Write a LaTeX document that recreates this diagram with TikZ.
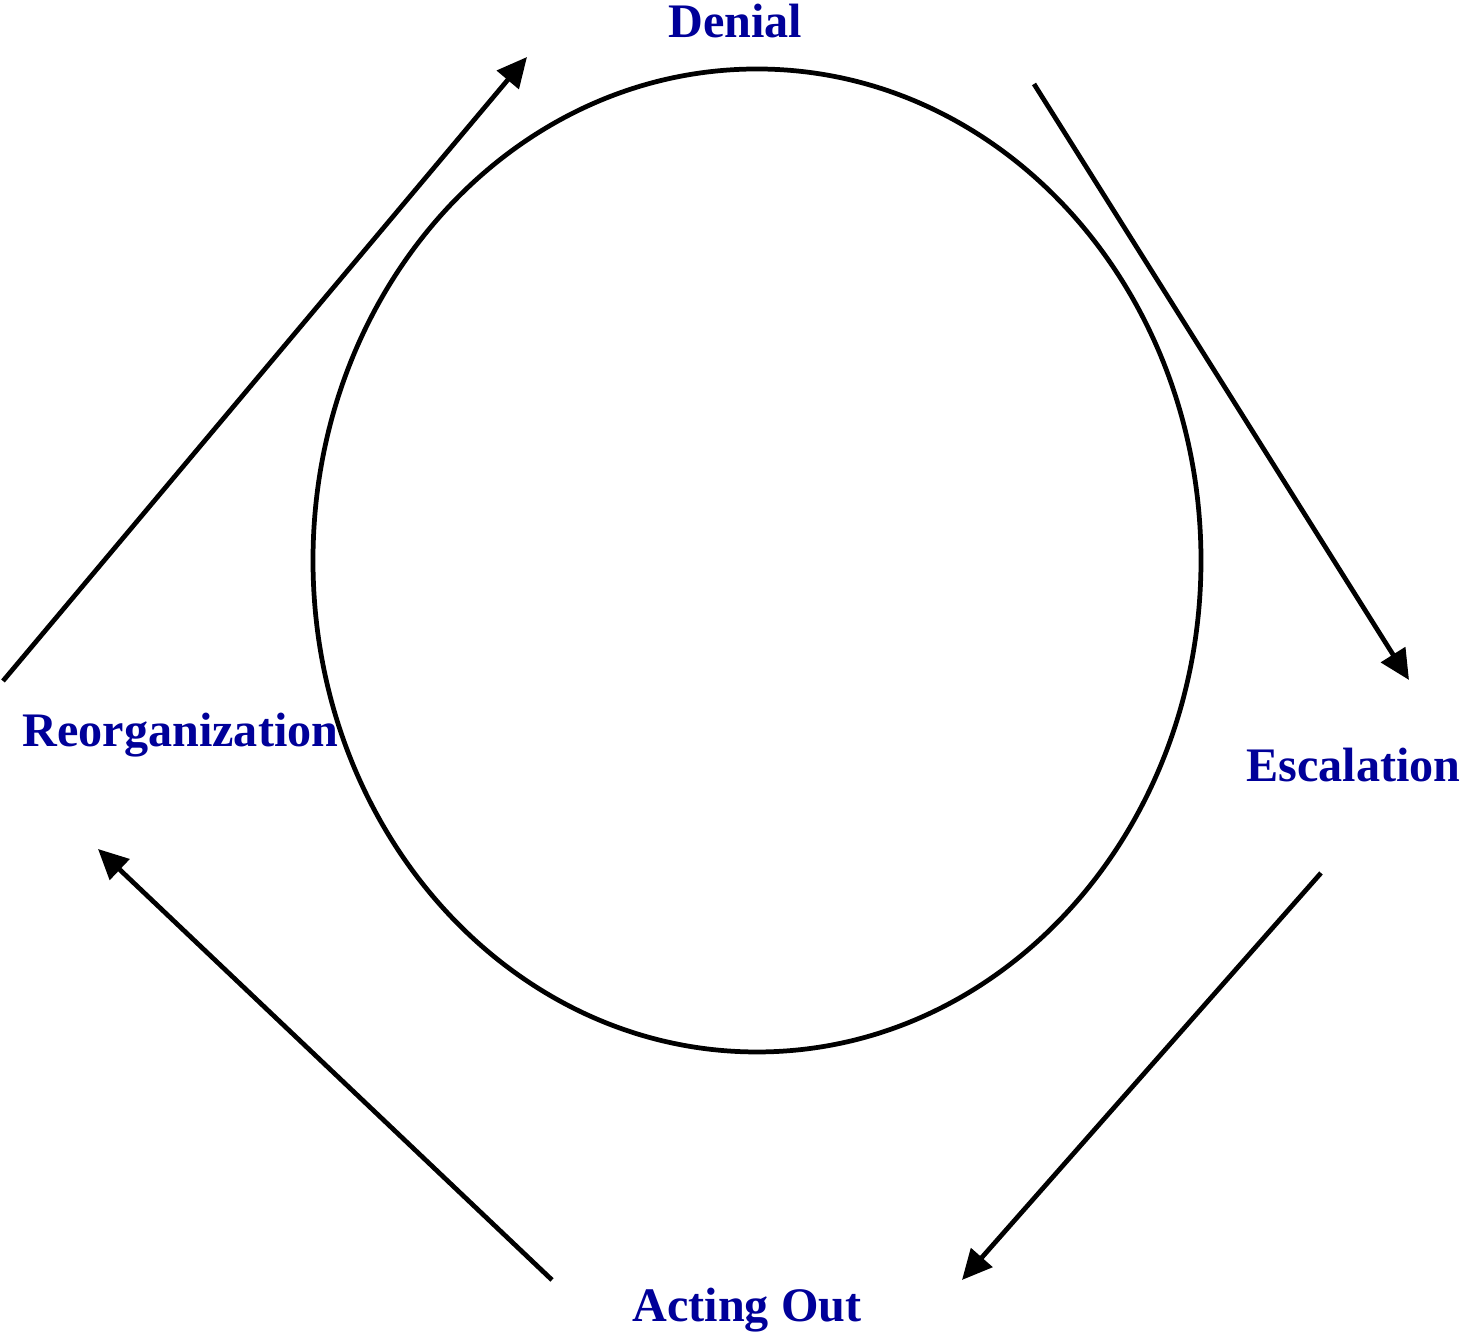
\documentclass[tikz,border=0pt]{standalone}
\usepackage{fontspec}
\setmainfont{Liberation Serif}
\usetikzlibrary{arrows.meta}
\definecolor{stagecol}{HTML}{000099}

\begin{document}
\begin{tikzpicture}[>={Triangle[length=3mm,width=2.8mm]},
  stage/.style={text=stagecol, font=\fontsize{13.7}{16}\selectfont\bfseries, anchor=base, inner sep=0pt},
  cycarrow/.style={->, line width=1.35pt}]

\useasboundingbox (0,0) rectangle (14.65,13.34);

% Circle
\draw[line width=1.35pt] (7.57,7.735) ellipse [x radius=4.44, y radius=4.915];

% Stage labels
\node[stage] (denial) at (7.355,12.96) {Denial};
\node[stage] (escal) at (13.535,5.52) {Escalation};
\node[stage] (acting) at (7.47,0.12) {Acting Out};
\node[stage] (reorg) at (1.805,5.87) {Reorganization};

% Arrow ends
\coordinate (r1) at (0.03,6.53);
\coordinate (d1) at (5.27,12.77);
\coordinate (d2) at (10.34,12.50);
\coordinate (e1) at (14.09,6.54);
\coordinate (e2) at (13.21,4.61);
\coordinate (a1) at (9.62,0.54);
\coordinate (a2) at (5.52,0.54);
\coordinate (r2) at (0.98,4.85);

% Cycle arrows
\draw[cycarrow] (r1) -- (d1);
\draw[cycarrow] (d2) -- (e1);
\draw[cycarrow] (e2) -- (a1);
\draw[cycarrow] (a2) -- (r2);

\end{tikzpicture}
\end{document}
